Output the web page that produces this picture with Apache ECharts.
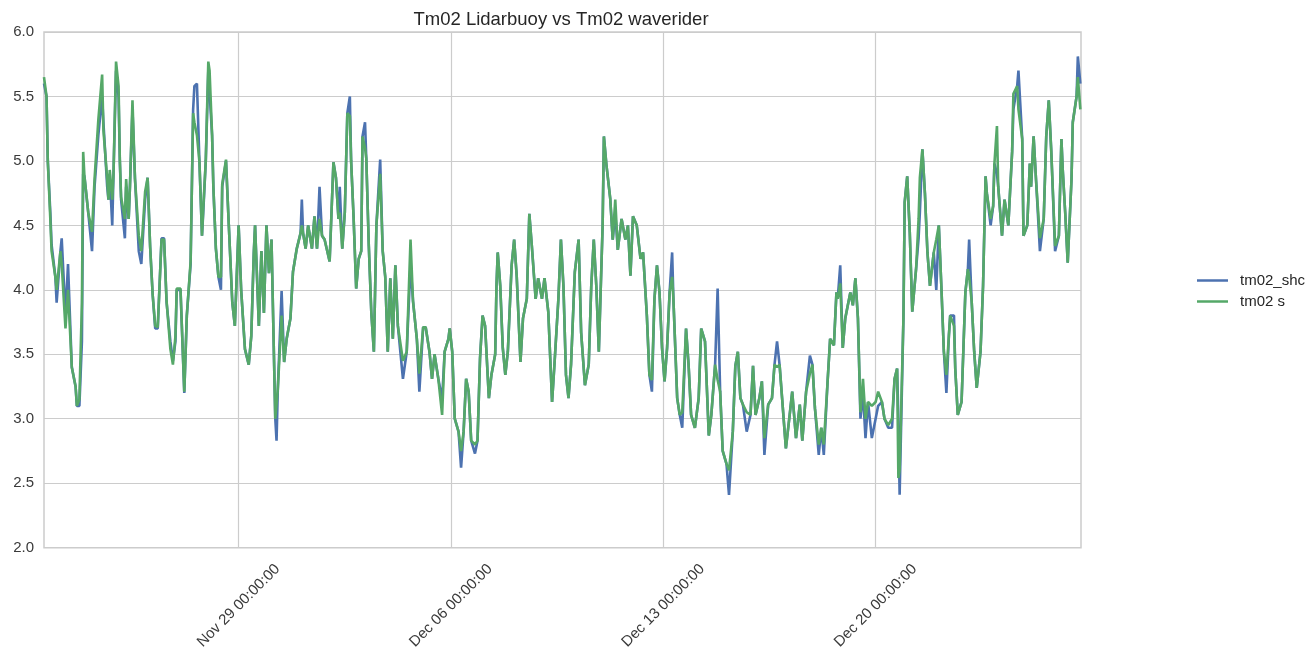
<!DOCTYPE html>
<html>
<head>
<meta charset="utf-8">
<script src="https://cdn.jsdelivr.net/npm/echarts@6/dist/echarts.min.js"></script>
<style>
html,body{margin:0;padding:0;background:#fff;}
#chart{width:1310px;height:652px;}
</style>
</head>
<body>
<div id="chart"></div>
<script>
// Series start time (UTC) and sample times in hours from that start
const startTime = '2015-11-22T14:00:00Z';
const hoursFromStart = [
0,2,3,5,6,9,10,13,14,17,19,22,25,26,28,30,31,32,35,38,40,43,46,47,50,51,52,54,55,57,59,60,61,64,65,67,68,70,72,75,77,80,82,84,86,88,90,93,95,97,100,102,104,105,108,111,113,116,118,119,121,123,125,126,128,130,131,133,134,136,138,140,141,144,146,149,151,154,156,159,162,164,166,167,170,172,174,176,178,180,183,184,185,188,190,192,195,197,200,203,204,205,207,209,212,214,216,218,220,222,226,229,231,233,234,236,238,240,242,243,245,247,249,251,252,254,255,257,259,261,263,266,268,270,272,274,276,278,280,284,287,290,292,295,297,300,302,305,307,309,312,315,317,320,321,323,325,328,330,332,334,336,338,341,343,345,347,349,352,354,357,358,359,361,363,365,367,370,372,374,377,379,382,384,386,389,391,394,396,399,402,404,407,409,411,413,415,417,420,423,425,428,431,433,435,437,439,442,443,445,448,450,452,454,457,460,462,464,466,469,472,474,477,479,481,483,485,487,489,491,493,495,497,498,501,503,505,508,510,512,515,518,520,523,526,528,531,533,535,537,540,542,545,547,549,551,553,556,559,561,563,566,568,570,573,576,578,580,582,584,587,590,592,595,598,600,603,606,608,610,613,615,617,620,622,625,627,628,630,632,634,636,638,640,642,644,646,648,650,652,655,658,660,663,665,668,671,673,675,676,677,680,681,683,685,687,690,692,693,695,697,699,701,704,706,708,710,712,714,716,717,720,721,723,726,729,731,732,734,736,738,741,743,745,746,749,751,752,754,755,758,760,763,766,767,770,771,774,775,778,780,781,783,785,788,791,793,795,797,800,803,805,806,808,810,813,814,817,818,820
];
// tm02 s (waverider)
const tm02S = [
5.65,5.5,5.0,4.55,4.3,4.1,4.0,4.3,4.2,3.7,4.0,3.4,3.25,3.1,3.15,3.9,5.07,4.88,4.6,4.45,4.86,5.32,5.67,5.24,4.86,4.7,4.93,4.7,4.9,5.77,5.58,5.01,4.72,4.55,4.86,4.55,4.8,5.47,4.86,4.42,4.3,4.76,4.87,4.33,3.96,3.72,3.71,4.39,4.39,3.91,3.54,3.42,3.64,4.01,4.01,3.21,3.8,4.22,5.37,5.3,5.2,4.99,4.42,4.63,5.0,5.77,5.7,5.2,4.8,4.32,4.1,4.1,4.82,5.01,4.55,3.9,3.72,4.5,4.0,3.54,3.42,3.64,4.29,4.5,3.72,4.3,3.82,4.5,4.13,4.39,3.0,3.0,3.23,3.8,3.44,3.62,3.78,4.14,4.32,4.44,4.5,4.44,4.32,4.5,4.32,4.57,4.32,4.55,4.42,4.39,4.22,4.99,4.87,4.55,4.6,4.32,4.6,5.37,5.35,5.0,4.55,4.01,4.24,4.3,5.19,5.1,5.02,4.34,3.82,3.52,4.5,4.9,4.3,4.1,3.52,4.09,3.62,4.19,3.72,3.45,3.52,4.39,3.91,3.62,3.35,3.71,3.71,3.52,3.31,3.5,3.31,3.03,3.52,3.62,3.7,3.52,3.0,2.9,2.75,2.9,3.31,3.21,2.83,2.8,2.83,3.47,3.8,3.72,3.16,3.34,3.5,4.03,4.29,4.03,3.55,3.34,3.52,4.19,4.39,4.11,3.44,3.78,3.93,4.59,4.34,3.93,4.09,3.93,4.09,3.83,3.13,3.44,3.93,4.39,4.03,3.34,3.16,3.42,4.14,4.39,3.67,3.26,3.42,4.03,4.39,4.03,3.52,4.5,5.19,4.97,4.71,4.39,4.7,4.31,4.55,4.39,4.5,4.11,4.57,4.5,4.24,4.29,3.8,3.34,3.3,3.93,4.19,3.98,3.55,3.29,3.55,3.98,4.1,3.93,3.16,3.03,3.05,3.7,3.42,3.03,2.93,3.16,3.7,3.6,2.87,3.03,3.42,3.3,3.21,2.75,2.65,2.6,2.9,3.41,3.52,3.16,3.11,3.05,3.03,3.41,3.03,3.16,3.29,2.85,3.11,3.16,3.42,3.4,3.42,3.16,2.77,3.03,3.21,2.85,3.11,2.83,3.21,3.35,3.42,3.08,2.8,2.93,2.8,3.29,3.62,3.57,3.98,3.93,4.05,3.55,3.78,3.88,3.98,3.88,4.09,3.78,3.05,3.31,3.0,3.13,3.1,3.13,3.21,3.13,3.0,2.95,3.0,3.31,3.39,2.54,2.6,3.78,4.68,4.88,4.45,3.83,4.16,4.55,4.87,5.09,4.75,4.29,4.03,4.29,4.39,4.5,4.03,3.52,3.34,3.65,3.8,3.72,3.39,3.03,3.13,3.98,4.16,4.1,3.91,3.52,3.24,3.52,4.03,4.88,4.75,4.55,4.65,4.98,5.27,4.8,4.42,4.7,4.5,5.07,5.52,5.58,5.4,5.17,4.42,4.5,4.98,4.8,5.19,4.84,4.4,4.55,5.19,5.47,5.07,4.34,4.42,5.17,4.94,4.6,4.21,4.86,5.3,5.5,5.65,5.4
];
// tm02_shc (Lidarbuoy)
const tm02Shc = [
5.6,5.5,5.0,4.6,4.35,4.1,3.9,4.3,4.4,3.8,4.2,3.4,3.25,3.1,3.1,3.6,4.9,4.88,4.6,4.3,4.8,5.2,5.5,5.3,4.8,4.7,4.9,4.5,4.9,5.7,5.5,5.0,4.7,4.4,4.8,4.55,4.8,5.4,4.86,4.3,4.2,4.7,4.87,4.33,3.96,3.7,3.7,4.4,4.4,3.9,3.6,3.45,3.6,4.0,4.0,3.2,3.8,4.2,5.4,5.58,5.6,4.99,4.42,4.6,5.0,5.7,5.7,5.2,4.8,4.32,4.1,4.0,4.8,5.0,4.55,3.9,3.72,4.5,4.0,3.54,3.42,3.64,4.29,4.5,3.72,4.3,3.82,4.5,4.13,4.39,3.0,2.83,3.23,3.99,3.44,3.62,3.78,4.14,4.32,4.44,4.7,4.44,4.32,4.5,4.32,4.57,4.32,4.8,4.42,4.39,4.22,4.99,4.87,4.55,4.8,4.32,4.6,5.37,5.5,5.0,4.55,4.01,4.24,4.3,5.19,5.3,5.02,4.34,3.82,3.52,4.5,5.01,4.3,4.1,3.52,4.09,3.62,4.19,3.72,3.31,3.52,4.2,3.91,3.62,3.21,3.71,3.71,3.52,3.31,3.5,3.31,3.15,3.52,3.62,3.7,3.52,3.0,2.9,2.62,2.9,3.31,3.21,2.83,2.73,2.83,3.47,3.8,3.72,3.16,3.34,3.5,4.03,4.29,4.03,3.55,3.34,3.52,4.19,4.39,4.11,3.44,3.78,3.93,4.59,4.34,3.93,4.09,3.93,4.09,3.83,3.13,3.44,3.93,4.39,4.03,3.34,3.16,3.42,4.14,4.39,3.67,3.26,3.42,4.03,4.39,4.03,3.52,4.5,5.19,4.97,4.71,4.39,4.6,4.31,4.55,4.39,4.5,4.11,4.57,4.5,4.24,4.29,3.8,3.34,3.21,3.93,4.19,3.98,3.55,3.29,3.55,3.98,4.29,3.93,3.16,3.03,2.93,3.7,3.42,3.03,2.93,3.16,3.7,3.6,2.87,3.03,3.42,4.01,3.21,2.75,2.65,2.41,2.9,3.41,3.52,3.16,3.11,2.9,3.03,3.41,3.03,3.16,3.29,2.72,3.11,3.16,3.42,3.6,3.42,3.16,2.77,3.03,3.21,2.85,3.11,2.83,3.21,3.49,3.42,3.08,2.72,2.93,2.72,3.29,3.62,3.57,3.98,3.93,4.19,3.55,3.78,3.88,3.98,3.88,4.09,3.78,3.0,3.2,2.85,3.13,2.85,3.0,3.1,3.13,3.0,2.93,2.93,3.31,3.39,3.0,2.41,3.78,4.68,4.88,4.45,3.83,4.16,4.4,4.6,5.09,4.75,4.29,4.03,4.29,4.0,4.5,4.03,3.52,3.2,3.65,3.8,3.8,3.39,3.03,3.13,3.98,4.16,4.39,3.91,3.52,3.24,3.52,4.03,4.88,4.75,4.5,4.65,4.98,4.9,4.8,4.42,4.7,4.5,5.07,5.4,5.58,5.7,5.17,4.42,4.5,4.98,4.8,5.19,4.84,4.3,4.55,5.19,5.47,5.07,4.3,4.42,5.17,4.94,4.6,4.21,4.86,5.3,5.5,5.81,5.6
];
const seriesNames = ['tm02_shc', 'tm02 s'];
const titleText = 'Tm02 Lidarbuoy vs Tm02 waverider';
const xTickDates = ['2015-11-29T00:00:00Z', '2015-12-06T00:00:00Z', '2015-12-13T00:00:00Z', '2015-12-20T00:00:00Z'];
const xTickLabels = ['Nov 29 00:00:00', 'Dec 06 00:00:00', 'Dec 13 00:00:00', 'Dec 20 00:00:00'];
const yTickLabels = ['2.0','2.5','3.0','3.5','4.0','4.5','5.0','5.5','6.0'];
const xRangeHours = [0, 820.5];

const t0 = Date.parse(startTime);
const HOUR = 3600 * 1000;
const times = hoursFromStart.map(h => t0 + h * HOUR);
const tickValues = xTickDates.map(s => Date.parse(s));
const font = '"Liberation Sans", Arial, sans-serif';
const textColor = '#3a3a3a';

const chart = echarts.init(document.getElementById('chart'), null, {renderer: 'canvas'});
chart.setOption({
  animation: false,
  backgroundColor: '#ffffff',
  title: {
    text: titleText,
    left: 556, textAlign: 'center', top: 5,
    textStyle: {fontFamily: font, fontSize: 18.5, fontWeight: 'normal', color: '#262626'}
  },
  legend: {
    data: seriesNames,
    orient: 'vertical',
    left: 1192, top: 268,
    itemWidth: 31, itemHeight: 2.5, itemGap: 6,
    icon: 'rect',
    textStyle: {fontFamily: font, fontSize: 15, color: '#262626', padding: [0, 0, 0, 7]}
  },
  grid: {
    left: 44, right: 229, top: 32, bottom: 102,
    show: true, borderColor: '#cccccc', borderWidth: 1.5, containLabel: false
  },
  xAxis: {
    type: 'value',
    min: t0 + xRangeHours[0] * HOUR,
    max: t0 + xRangeHours[1] * HOUR,
    axisLine: {show: false},
    axisTick: {show: false, customValues: tickValues},
    splitLine: {show: true, lineStyle: {color: '#cccccc', width: 1.2}},
    axisLabel: {
      customValues: tickValues,
      rotate: 45,
      align: 'center', verticalAlign: 'middle',
      margin: 58,
      fontFamily: font, fontSize: 15, color: textColor,
      formatter: function (v) {
        const i = tickValues.indexOf(v);
        return i >= 0 ? xTickLabels[i] : '';
      }
    }
  },
  yAxis: {
    type: 'value',
    min: 2, max: 6, interval: 0.5,
    axisLine: {show: false},
    axisTick: {show: false},
    splitLine: {show: true, lineStyle: {color: '#cccccc', width: 1.2}},
    axisLabel: {
      margin: 10,
      fontFamily: font, fontSize: 15, color: textColor,
      formatter: function (v) {
        const i = Math.round((v - 2) / 0.5);
        return yTickLabels[i] !== undefined ? yTickLabels[i] : '';
      }
    }
  },
  series: [
    {
      name: seriesNames[0], type: 'line', showSymbol: false, symbol: 'none',
      color: '#4C72B0',
      lineStyle: {color: '#4C72B0', width: 2.6},
      data: times.map((t, i) => [t, tm02Shc[i]])
    },
    {
      name: seriesNames[1], type: 'line', showSymbol: false, symbol: 'none',
      color: '#55A868',
      lineStyle: {color: '#55A868', width: 2.6},
      data: times.map((t, i) => [t, tm02S[i]])
    }
  ]
});
</script>
</body>
</html>
